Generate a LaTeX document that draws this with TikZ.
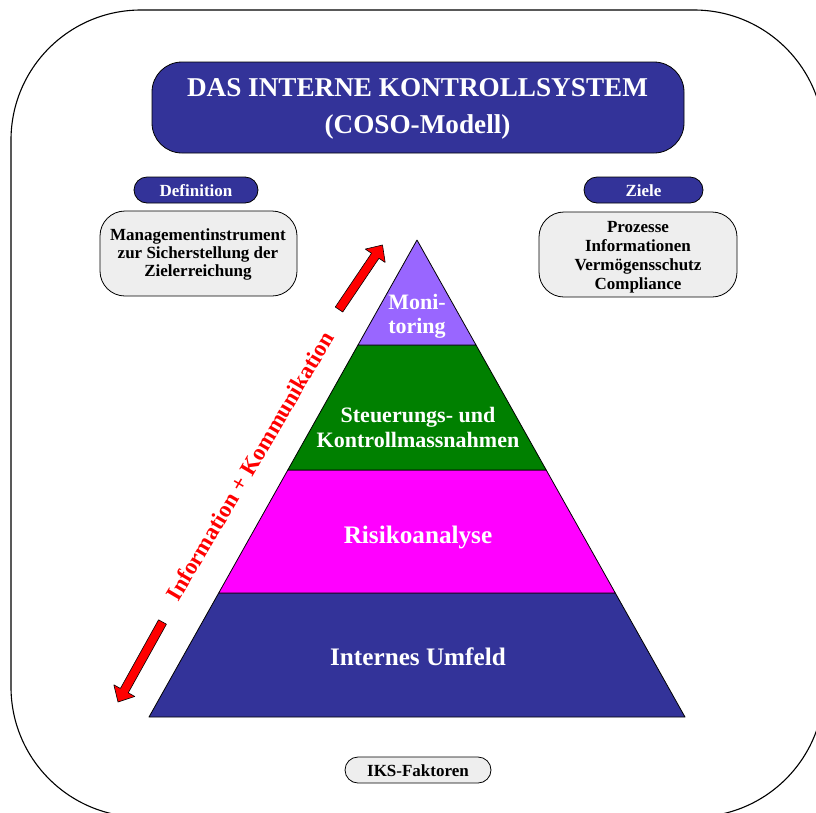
\documentclass[tikz,border=0pt]{standalone}
\usepackage{fontspec}
\setmainfont{Liberation Serif}
\usetikzlibrary{calc}
\definecolor{ikblue}{HTML}{333399}
\definecolor{ikgray}{HTML}{EEEEEE}
\definecolor{ikviolet}{HTML}{9966FF}
\definecolor{ikgreen}{HTML}{008000}
\definecolor{ikmag}{HTML}{FF00FF}
\newcommand{\blockarr}[2]{%
  \coordinate (#1h) at ($(#2)!13pt!(#1)$);
  \draw[redarrow] ($(#1)!4.5pt!90:(#2)$) -- ($(#1h)!4.5pt!90:(#2)$) -- ($(#1h)!12pt!90:(#2)$)
    -- (#2) -- ($(#1h)!12pt!-90:(#2)$) -- ($(#1h)!4.5pt!-90:(#2)$) -- ($(#1)!4.5pt!-90:(#2)$) -- cycle;}
\begin{document}
\begin{tikzpicture}[x=1pt,y=-1pt,line join=round,
  txt/.style={inner sep=0pt,anchor=base},
  wtxt/.style={txt,text=white},
  fs27/.style={font=\fontsize{27.2}{30}\selectfont\bfseries},
  fs25/.style={font=\fontsize{25.2}{28}\selectfont\bfseries},
  fs22/.style={font=\fontsize{22}{25}\selectfont\bfseries},
  fs17/.style={font=\fontsize{17}{19}\selectfont\bfseries},
  bluebox/.style={draw=black,line width=0.8pt,fill=ikblue,inner sep=0pt},
  graybox/.style={draw=black,line width=0.8pt,fill=ikgray,inner sep=0pt},
  layer/.style={draw=black,line width=0.8pt},
  redarrow/.style={draw=black,line width=0.6pt,fill=red}]
\useasboundingbox (0,0) rectangle (816,812);
\clip (0,0) rectangle (816,812);
% outer frame
\draw[line width=1.1pt,rounded corners=130pt] (11,10) rectangle (824,817);
% title
\node[bluebox,rounded corners=30pt,minimum width=532pt,minimum height=91pt] (title) at (418,107.5) {};
\node[wtxt,fs27] (title1) at (417.5,96) {DAS INTERNE KONTROLLSYSTEM};
\node[wtxt,fs27] (title2) at (417.5,133) {(COSO-Modell)};
% definition
\node[bluebox,rounded corners=13pt,minimum width=124pt,minimum height=26pt] (defpill) at (196,190) {};
\node[wtxt,fs17] (deftxt) at (196,196) {Definition};
\node[graybox,rounded corners=25pt,minimum width=197pt,minimum height=85pt] (defbox) at (198.5,253.5) {};
\node[txt,fs17] (def1) at (198,240) {Managementinstrument};
\node[txt,fs17] (def2) at (198,258.3) {zur Sicherstellung der};
\node[txt,fs17] (def3) at (198,276.7) {Zielerreichung};
% ziele
\node[bluebox,rounded corners=13pt,minimum width=119pt,minimum height=26pt] (zpill) at (643.5,190) {};
\node[wtxt,fs17] (ztxt) at (643.5,196) {Ziele};
\node[graybox,rounded corners=25pt,minimum width=198pt,minimum height=85pt] (zbox) at (638,254.5) {};
\node[txt,fs17] (z1) at (638,232) {Prozesse};
\node[txt,fs17] (z2) at (638,251) {Informationen};
\node[txt,fs17] (z3) at (638,270) {Vermögensschutz};
\node[txt,fs17] (z4) at (638,289) {Compliance};
% pyramid
\coordinate (apex) at (417,240);
\coordinate (l1) at (358,345); \coordinate (r1) at (476,345);
\coordinate (l2) at (287.8,470); \coordinate (r2) at (546.2,470);
\coordinate (l3) at (218.7,593); \coordinate (r3) at (615.3,593);
\coordinate (l4) at (149,717); \coordinate (r4) at (685,717);
\draw[layer,fill=ikblue] (l3) -- (r3) -- (r4) -- (l4) -- cycle;
\draw[layer,fill=ikmag] (l2) -- (r2) -- (r3) -- (l3) -- cycle;
\draw[layer,fill=ikgreen] (l1) -- (r1) -- (r2) -- (l2) -- cycle;
\draw[layer,fill=ikviolet] (apex) -- (r1) -- (l1) -- cycle;
\node[wtxt,fs22] (mon1) at (417,309) {Moni-};
\node[wtxt,fs22] (mon2) at (417,333) {toring};
\node[wtxt,fs22] (st1) at (418,422) {Steuerungs- und};
\node[wtxt,fs22] (st2) at (418,447) {Kontrollmassnahmen};
\node[wtxt,fs25] (risk) at (418,543) {Risikoanalyse};
\node[wtxt,fs25] (umf) at (418,665) {Internes Umfeld};
% information + kommunikation
\coordinate (ta) at (339,309.5); \coordinate (pa) at (382.5,245);
\coordinate (tb) at (162.5,622); \coordinate (pb) at (118,702);
\blockarr{ta}{pa}
\blockarr{tb}{pb}
\node[inner sep=0pt,text=red,font=\fontsize{23}{26}\selectfont\bfseries,rotate=59.5] (ik) at (250,466) {Information + Kommunikation};
% IKS-Faktoren
\node[graybox,rounded corners=13pt,minimum width=146pt,minimum height=26pt] (iks) at (418,770) {};
\node[txt,fs17] (ikstxt) at (418,776) {IKS-Faktoren};
\end{tikzpicture}
\end{document}
